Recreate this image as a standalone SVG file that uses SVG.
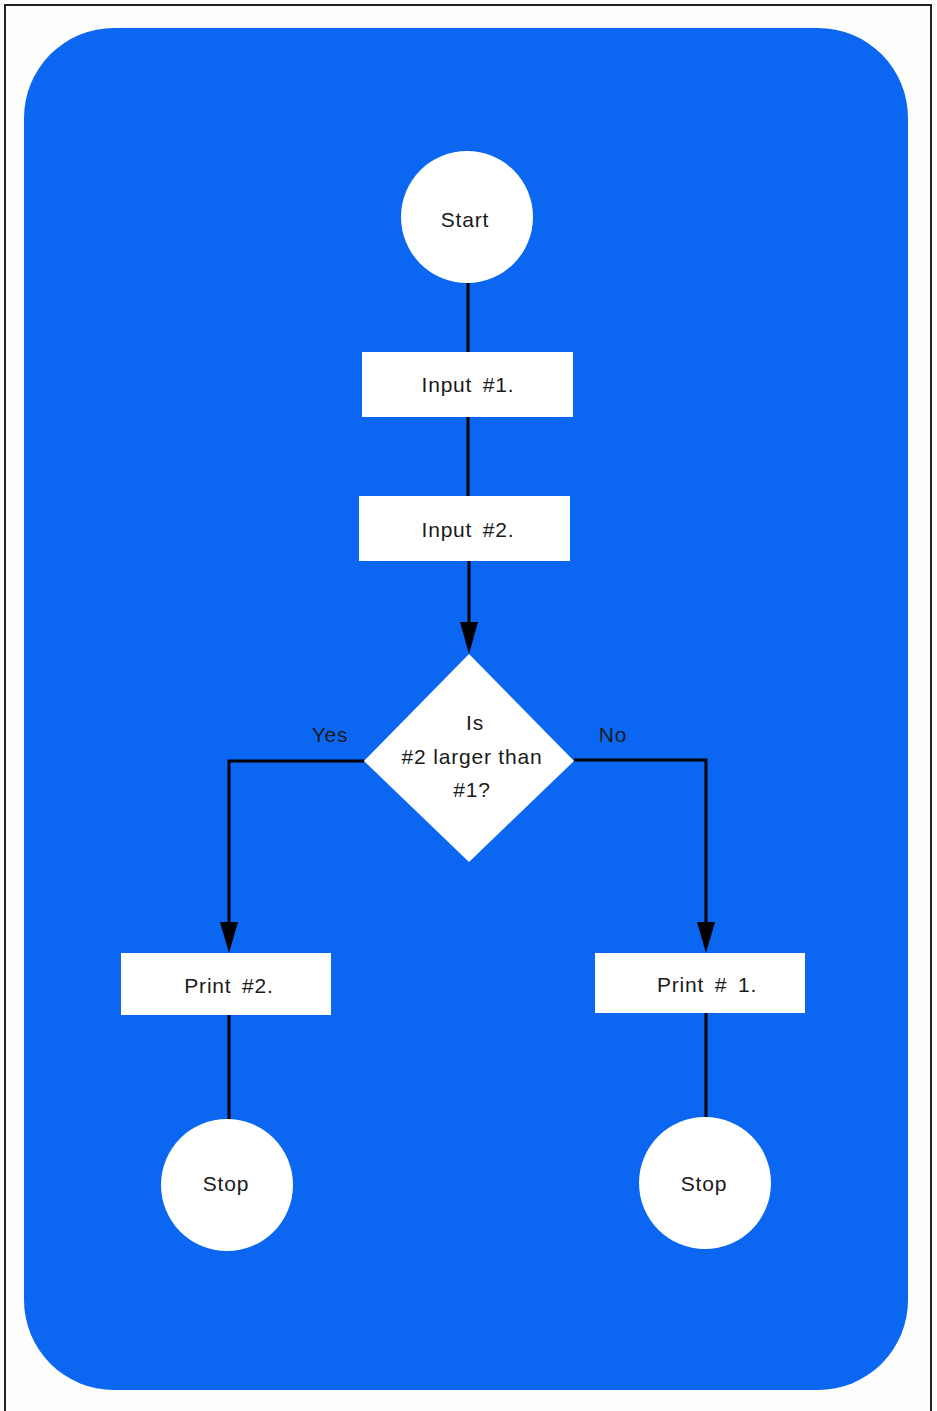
<svg xmlns="http://www.w3.org/2000/svg" width="937" height="1411" viewBox="0 0 937 1411">
<defs>
<style>
.box{fill:#fff}
.lbl{font-family:"Liberation Sans",Arial,sans-serif;font-size:21px;letter-spacing:0.8px;fill:#1a1a1a;text-anchor:middle}
.ws{word-spacing:4px}
.edge{fill:none;stroke:#000;stroke-width:3}
</style>
</defs>
<rect x="0" y="0" width="937" height="1411" fill="#fdfdfb"/>
<rect x="5" y="5" width="926" height="1420" fill="none" stroke="#222" stroke-width="2"/>
<rect x="24" y="28" width="884" height="1362" rx="90" ry="90" fill="#0b66f2"/>

<g id="connectors">
<line class="edge" x1="468" y1="283" x2="468" y2="352"/>
<line class="edge" x1="468" y1="417" x2="468" y2="496"/>
<line class="edge" x1="469" y1="561" x2="469" y2="625"/>
<polygon points="460,622 478,622 469,654" fill="#000"/>
<polyline class="edge" points="364,761 229,761 229,925"/>
<polygon points="220,922 238,922 229,953" fill="#000"/>
<polyline class="edge" points="574,760 706,760 706,925"/>
<polygon points="697,922 715,922 706,953" fill="#000"/>
<line class="edge" x1="229" y1="1015" x2="229" y2="1120"/>
<line class="edge" x1="706" y1="1013" x2="706" y2="1118"/>
<text class="lbl" x="330" y="742">Yes</text>
<text class="lbl" x="613" y="742">No</text>
</g>

<g id="start">
<circle class="box" cx="467" cy="217" r="66"/>
<text class="lbl" x="465" y="227">Start</text>
</g>
<g id="input1">
<rect class="box" x="362" y="352" width="211" height="65"/>
<text class="lbl ws" x="468" y="392">Input #1.</text>
</g>
<g id="input2">
<rect class="box" x="359" y="496" width="211" height="65"/>
<text class="lbl ws" x="468" y="537">Input #2.</text>
</g>
<g id="decision">
<polygon class="box" points="469,654 574,761 469,862 364,761"/>
<text class="lbl" x="475" y="730">Is</text>
<text class="lbl" x="472" y="764">#2 larger than</text>
<text class="lbl" x="472" y="797">#1?</text>
</g>
<g id="print2">
<rect class="box" x="121" y="953" width="210" height="62"/>
<text class="lbl ws" x="229" y="993">Print #2.</text>
</g>
<g id="print1">
<rect class="box" x="595" y="953" width="210" height="60"/>
<text class="lbl ws" x="707" y="992">Print # 1.</text>
</g>
<g id="stop1">
<circle class="box" cx="227" cy="1185" r="66"/>
<text class="lbl" x="226" y="1191">Stop</text>
</g>
<g id="stop2">
<circle class="box" cx="705" cy="1183" r="66"/>
<text class="lbl" x="704" y="1191">Stop</text>
</g>
</svg>
